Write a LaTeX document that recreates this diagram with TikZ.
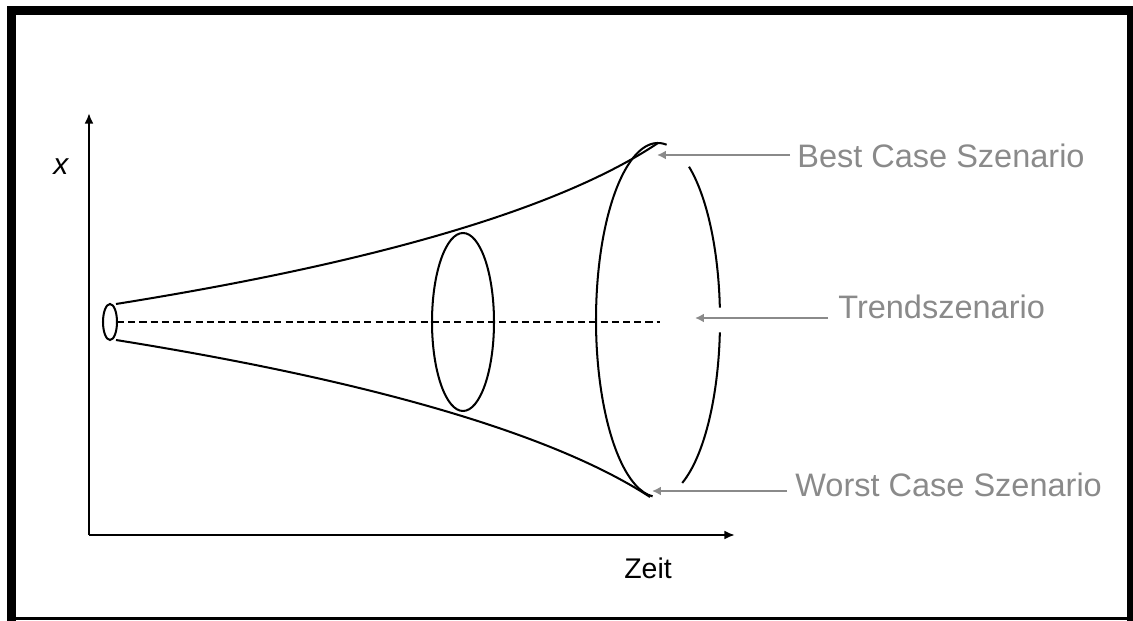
\documentclass[tikz,border=0pt]{standalone}
\usepackage{fontspec}
\setmainfont{Liberation Sans}
\usetikzlibrary{arrows.meta}

\definecolor{lblgray}{HTML}{8A8A8A}

\begin{document}
\begin{tikzpicture}[x=.02cm,y=-.02cm,
  axis/.style={line width=1.7pt,-{Latex[length=6pt,width=5pt]}},
  cone/.style={line width=1.15pt},
  pointer/.style={draw=lblgray,line width=1.6pt,-{Latex[length=5pt,width=5pt]}},
  lbl/.style={anchor=base west,inner sep=0pt,text=lblgray,font=\fontsize{18.5}{22}\selectfont}]
  \useasboundingbox (0,0) rectangle (1133,621);
  % frame
  \fill (7,6) rectangle (1133,15);
  \fill (7,6) rectangle (16,621);
  \fill (1127,6) rectangle (1133,621);
  \fill (7,617) rectangle (1133,620);
  % axes
  \coordinate (O) at (89,535);
  \coordinate (ytip) at (89,113);
  \coordinate (xtip) at (735,535);
  \draw[axis] (O) -- (ytip);
  \draw[axis] (O) -- (xtip);
  \node[anchor=base west,inner sep=0pt,font=\fontsize{17}{20}\selectfont\itshape] (xlab) at (53,175) {x};
  \node[anchor=base west,inner sep=0pt,font=\fontsize{16.2}{19}\selectfont] (zeit) at (624,578) {Zeit};
  % funnel
  \coordinate (start) at (110,322);
  \coordinate (mid) at (463,322);
  \coordinate (end) at (658,320);
  \draw[cone] (116,304) .. controls (316,272) and (540,222) .. (658,143);
  \draw[cone] (116,340) .. controls (316,372) and (535,422) .. (650,497);
  \draw[cone] (start) ellipse [x radius=7,y radius=18];
  \draw[cone] (mid) ellipse [x radius=31,y radius=89];
  \draw[cone] (end) ++(-82:62 and 177) arc[start angle=-82,end angle=-265,x radius=62,y radius=177];
  \draw[cone] (end) ++(-60:62 and 177) arc[start angle=-60,end angle=-4,x radius=62,y radius=177];
  \draw[cone] (end) ++(4:62 and 177) arc[start angle=4,end angle=67,x radius=62,y radius=177];
  \draw[line width=1.5pt,dash pattern=on 4pt off 2.4pt] (117,322) -- (660,322);
  % scenarios
  \node[lbl] (best) at (797,168) {Best Case Szenario};
  \node[lbl] (trend) at (838,319) {Trendszenario};
  \node[lbl] (worst) at (795,497) {Worst Case Szenario};
  \coordinate (bestTip) at (657,155);
  \coordinate (trendTip) at (695,318);
  \coordinate (worstTip) at (652,491);
  \draw[pointer] (best.west |- bestTip) ++(-7,0) -- (bestTip);
  \draw[pointer] (trend.west |- trendTip) ++(-10,0) -- (trendTip);
  \draw[pointer] (worst.west |- worstTip) ++(-8,0) -- (worstTip);
\end{tikzpicture}
\end{document}
